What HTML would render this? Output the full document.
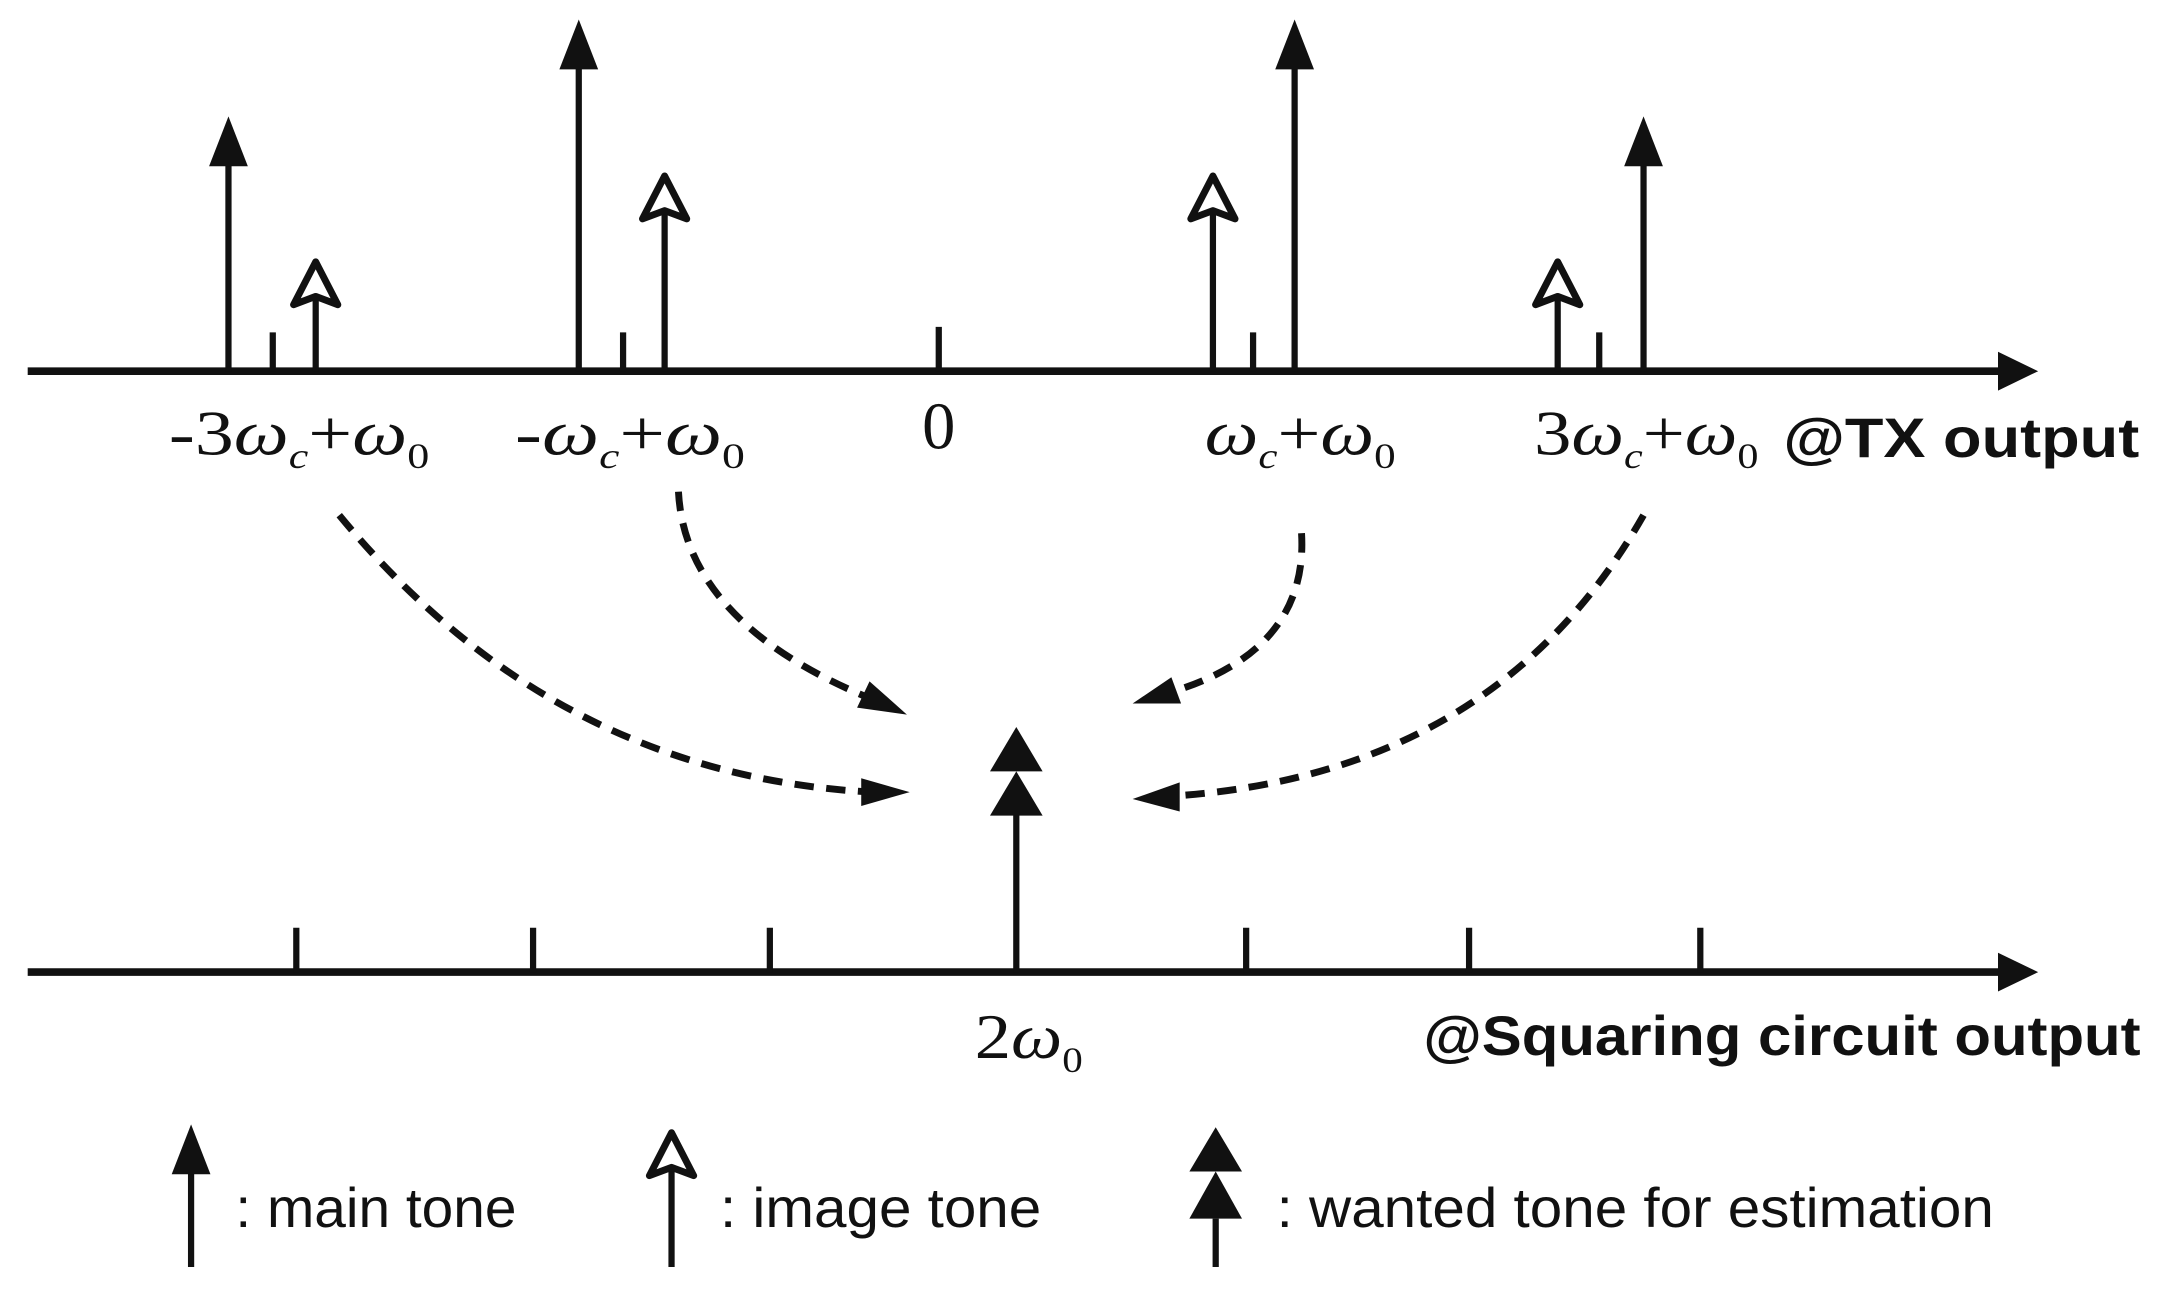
<!DOCTYPE html>
<html><head><style>html,body{margin:0;padding:0;background:#fff}svg{display:block}</style></head>
<body>
<svg width="2160" height="1299" viewBox="0 0 1560 938" xmlns="http://www.w3.org/2000/svg">
<g stroke="#111" fill="none" stroke-width="5.5">
<line x1="20" y1="268" x2="1450" y2="268"/>
<line x1="20" y1="702" x2="1450" y2="702"/>
</g>
<polygon points="1443,254 1472,268 1443,282" fill="#111"/>
<polygon points="1443,688 1472,702 1443,716" fill="#111"/>
<g stroke="#111" stroke-width="4.5">
<line x1="165" y1="268" x2="165" y2="110"/>
<line x1="418" y1="268" x2="418" y2="40"/>
<line x1="935" y1="268" x2="935" y2="40"/>
<line x1="1187" y1="268" x2="1187" y2="110"/>
<line x1="228" y1="268" x2="228" y2="215"/>
<line x1="480" y1="268" x2="480" y2="153"/>
<line x1="876" y1="268" x2="876" y2="153"/>
<line x1="1125" y1="268" x2="1125" y2="215"/>
<line x1="197" y1="268" x2="197" y2="240"/>
<line x1="450" y1="268" x2="450" y2="240"/>
<line x1="678" y1="268" x2="678" y2="236"/>
<line x1="905" y1="268" x2="905" y2="240"/>
<line x1="1155" y1="268" x2="1155" y2="240"/>
<line x1="214" y1="702" x2="214" y2="670"/>
<line x1="385" y1="702" x2="385" y2="670"/>
<line x1="556" y1="702" x2="556" y2="670"/>
<line x1="900" y1="702" x2="900" y2="670"/>
<line x1="1061" y1="702" x2="1061" y2="670"/>
<line x1="1228" y1="702" x2="1228" y2="670"/>
<line x1="734" y1="702" x2="734" y2="585"/>
<line x1="138" y1="915" x2="138" y2="840"/>
<line x1="485" y1="915" x2="485" y2="840"/>
<line x1="878" y1="915" x2="878" y2="880"/>
</g>
<g fill="#111">
<polygon points="165,84 151,120 179,120"/>
<polygon points="418,14 404,50 432,50"/>
<polygon points="935,14 921,50 949,50"/>
<polygon points="1187,84 1173,120 1201,120"/>
<polygon points="138,812 124,848 152,848"/>
<polygon points="734,525 715,557 753,557"/>
<polygon points="734,557 715,589 753,589"/>
<polygon points="878,814 859,846 897,846"/>
<polygon points="878,846 859,880 897,880"/>
</g>
<g fill="#fff" stroke="#111" stroke-width="5" stroke-linejoin="round">
<polygon points="228,189 212,220 228,214 244,220"/>
<polygon points="480,127 464,158 480,152 496,158"/>
<polygon points="876,127 860,158 876,152 892,158"/>
<polygon points="1125,189 1109,220 1125,214 1141,220"/>
<polygon points="485,818 469,849 485,843 501,849"/>
</g>
<g stroke="#111" stroke-width="5" fill="none" stroke-dasharray="14,9">
<path d="M245,372 Q400,560 630,572"/>
<path d="M490,355 Q495,450 630,505"/>
<path d="M940,385 Q945,470 845,500"/>
<path d="M1187,372 Q1080,560 845,575"/>
</g>
<g fill="#111">
<polygon points="657,572 622,562 622,582"/>
<polygon points="655,516 628,492 619,511"/>
<polygon points="818,508 846,489 853,508"/>
<polygon points="818,577 852,565 852,586"/>
</g>
<g font-family="Liberation Serif, serif" font-size="46" fill="#111">
<text x="122" y="328" textLength="188" lengthAdjust="spacingAndGlyphs">-3<tspan font-style="italic">ω</tspan><tspan font-size="26" font-style="italic" dy="10">c</tspan><tspan dy="-10">+</tspan><tspan font-style="italic">ω</tspan><tspan font-size="26" dy="10">0</tspan></text>
<text x="372" y="328" textLength="166" lengthAdjust="spacingAndGlyphs">-<tspan font-style="italic">ω</tspan><tspan font-size="26" font-style="italic" dy="10">c</tspan><tspan dy="-10">+</tspan><tspan font-style="italic">ω</tspan><tspan font-size="26" dy="10">0</tspan></text>
<text x="666" y="324" font-size="48">0</text>
<text x="870" y="328" textLength="138" lengthAdjust="spacingAndGlyphs"><tspan font-style="italic">ω</tspan><tspan font-size="26" font-style="italic" dy="10">c</tspan><tspan dy="-10">+</tspan><tspan font-style="italic">ω</tspan><tspan font-size="26" dy="10">0</tspan></text>
<text x="1108" y="328" textLength="162" lengthAdjust="spacingAndGlyphs">3<tspan font-style="italic">ω</tspan><tspan font-size="26" font-style="italic" dy="10">c</tspan><tspan dy="-10">+</tspan><tspan font-style="italic">ω</tspan><tspan font-size="26" dy="10">0</tspan></text>
<text x="704" y="764" textLength="78" lengthAdjust="spacingAndGlyphs">2<tspan font-style="italic">ω</tspan><tspan font-size="26" dy="10">0</tspan></text>
</g>
<g font-family="Liberation Sans, sans-serif" font-size="40" font-weight="bold" fill="#111">
<text x="1288" y="330" textLength="257" lengthAdjust="spacingAndGlyphs">@TX  output</text>
<text x="1028" y="762" textLength="518" lengthAdjust="spacingAndGlyphs">@Squaring circuit output</text>
</g>
<g font-family="Liberation Sans, sans-serif" font-size="40" fill="#111">
<text x="170" y="886" textLength="203" lengthAdjust="spacingAndGlyphs">: main tone</text>
<text x="520" y="886" textLength="232" lengthAdjust="spacingAndGlyphs">: image tone</text>
<text x="922" y="886" textLength="518" lengthAdjust="spacingAndGlyphs">: wanted tone for estimation</text>
</g>
</svg>
</body></html>
